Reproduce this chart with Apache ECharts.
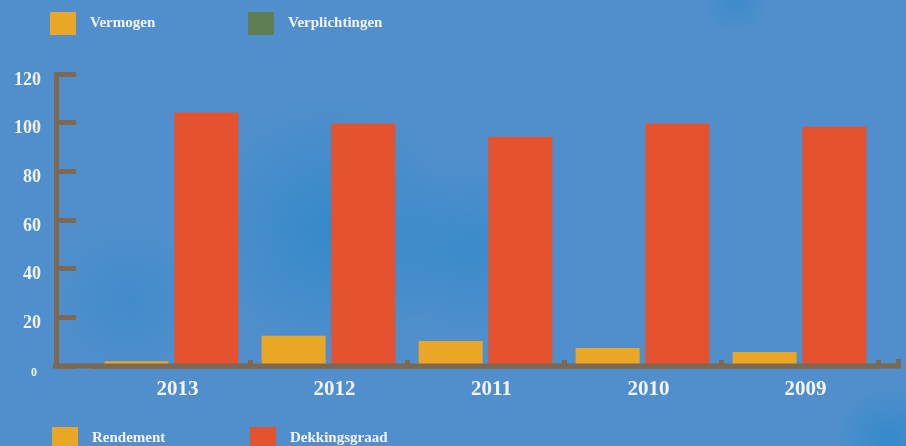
<!DOCTYPE html>
<html>
<head>
<meta charset="utf-8">
<script src="https://cdn.jsdelivr.net/npm/echarts@6/dist/echarts.min.js"></script>
<style>
  html, body { margin: 0; padding: 0; background: #508fcc; }
  #root { width: 906px; height: 446px; }
</style>
</head>
<body>
<div id="root"></div>
<script>
var years = ['2013', '2012', '2011', '2010', '2009'];
var rendement = [2, 12.4, 10.3, 7.4, 5.8];
var dekkingsgraad = [104.2, 99.7, 94.2, 99.7, 98.3];
var yTicks = [0, 20, 40, 60, 80, 100, 120];

var axisColor = '#7b6953';
var textColor = '#f4f4f4';
var font = '"Liberation Serif", "DejaVu Serif", serif';

var root = document.getElementById('root');
var myChart = echarts.init(root, null, { renderer: 'canvas' });

function blob(cx, cy, r, a) {
    return {
        type: 'circle', z: -10, silent: true,
        shape: { cx: cx, cy: cy, r: r },
        style: {
            fill: new echarts.graphic.RadialGradient(0.5, 0.5, 0.5, [
                { offset: 0, color: 'rgba(20,130,200,' + a + ')' },
                { offset: 1, color: 'rgba(20,130,200,0)' }
            ])
        }
    };
}

function legendItem(name, left, top) {
    return {
        data: [name],
        left: left, top: top, padding: 0,
        icon: 'rect', itemWidth: 26, itemHeight: 23,
        textStyle: { color: textColor, fontFamily: font, fontWeight: 'bold', fontSize: 15, padding: [0, 0, 0, 9] }
    };
}

var option = {
    backgroundColor: '#508fcc',
    animation: false,
    textStyle: { fontFamily: font },
    legend: [
        legendItem('Vermogen', 50, 12),
        legendItem('Verplichtingen', 248, 12),
        legendItem('Rendement', 52, 427),
        legendItem('Dekkingsgraad', 250, 427)
    ],
    grid: { left: 93, right: 28, top: 74, bottom: 80 },
    xAxis: {
        type: 'category',
        data: years,
        axisLine: { lineStyle: { color: axisColor, width: 5 } },
        axisTick: {
            show: true, inside: true, length: 6,
            interval: function (i) { return i > 0; },
            lineStyle: { color: axisColor, width: 5 }
        },
        axisLabel: {
            color: textColor, fontFamily: font, fontWeight: 'bold', fontSize: 21,
            margin: 13, padding: [0, 0, 0, 12]
        }
    },
    yAxis: {
        type: 'value',
        min: yTicks[0], max: yTicks[yTicks.length - 1], interval: 20,
        offset: 37,
        splitLine: { show: false },
        axisLine: { show: true, lineStyle: { color: axisColor, width: 5 } },
        axisTick: { show: true, inside: true, length: 20, lineStyle: { color: axisColor, width: 5 } },
        axisLabel: {
            color: textColor, fontFamily: font, fontWeight: 'bold', fontSize: 18,
            margin: 15, padding: [12, 0, 0, 0],
            formatter: function (v) { return v === 0 ? '{s|0}' : String(v); },
            rich: { s: { fontSize: 12, fontWeight: 'bold', fontFamily: font, color: textColor, padding: [2, 4, 0, 0] } }
        }
    },
    graphic: [
        blob(330, 230, 130, 0.45),
        blob(470, 250, 90, 0.35),
        blob(130, 300, 80, 0.25),
        blob(735, 0, 35, 0.3),
        blob(890, 440, 55, 0.45),
        { type: 'line', z: 5, silent: true, shape: { x1: 53, y1: 366, x2: 901, y2: 366 }, style: { stroke: axisColor, lineWidth: 5 } },
        { type: 'rect', z: 5, silent: true, shape: { x: 896, y: 359, width: 5, height: 7 }, style: { fill: axisColor } }
    ],
    series: [
        { name: 'Vermogen', type: 'line', data: [], itemStyle: { color: '#eaa625' } },
        { name: 'Verplichtingen', type: 'line', data: [], itemStyle: { color: '#5f7f53' } },
        {
            name: 'Rendement', type: 'bar', data: rendement,
            barWidth: 64, barGap: '9%',
            itemStyle: { color: '#eaa625' }
        },
        {
            name: 'Dekkingsgraad', type: 'bar', data: dekkingsgraad,
            barWidth: 64, barGap: '9%',
            itemStyle: { color: '#e4522f' }
        }
    ]
};
myChart.setOption(option);
</script>
</body>
</html>
